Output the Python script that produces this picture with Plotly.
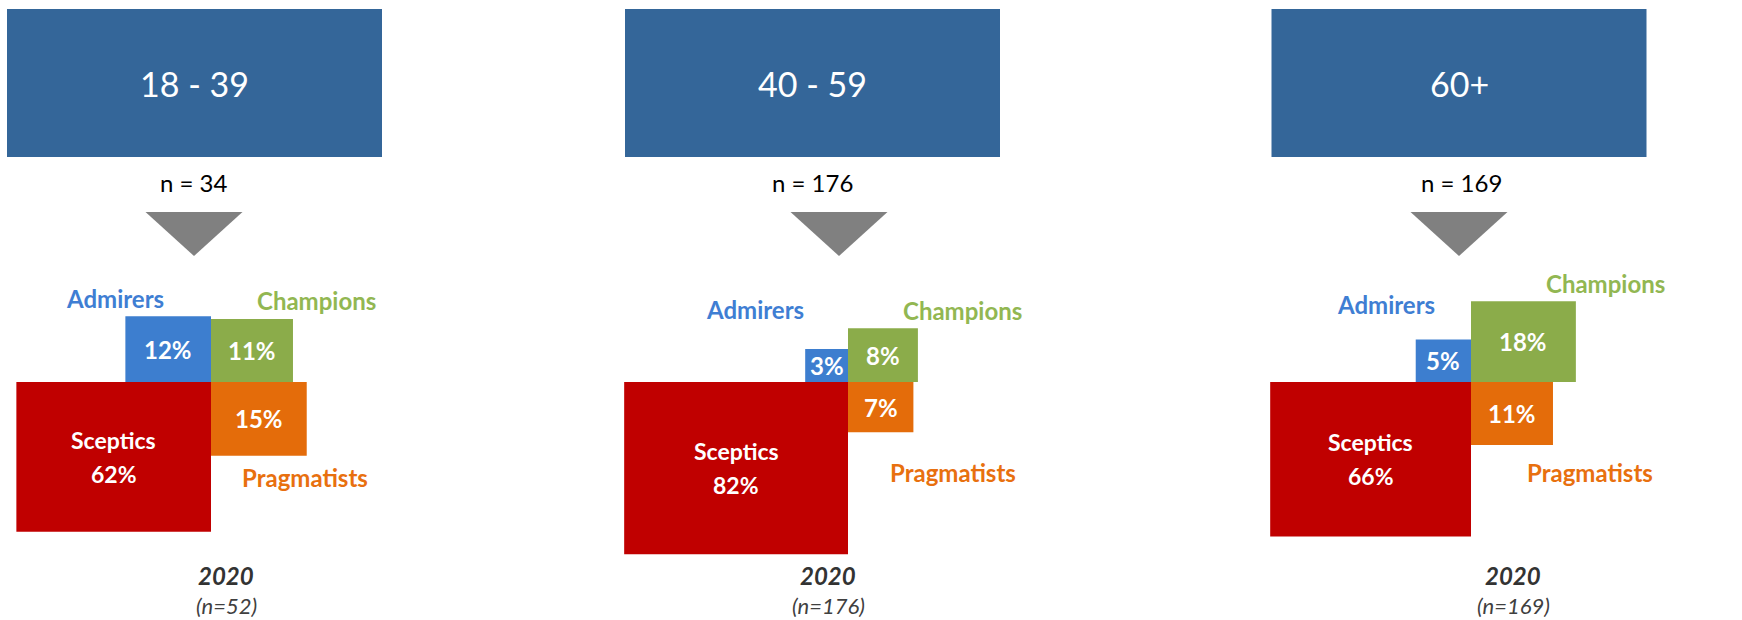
import math
import plotly.graph_objects as go

# ---------------- data ----------------
age_groups = ["18 - 39", "40 - 59", "60+"]
group_n = [34, 176, 169]
admirers = [12, 3, 5]
champions = [11, 8, 18]
sceptics = [62, 82, 66]
pragmatists = [15, 7, 11]
year_labels = ["2020", "2020", "2020"]
sample_n = [52, 176, 169]

# ---------------- layout / style constants ----------------
W, H = 1742, 620
FONT = "Lato"
HEADER_COLOR = "#346699"
C_ADM = "#3D7ECF"
C_CHA = "#8BAC4A"
C_SCE = "#C00000"
C_PRA = "#E46C0A"
T_ADM = "#3F7ED3"
T_CHA = "#92B752"
T_PRA = "#E8700F"

header_cx = [194.5, 812.5, 1459]
header_w, header_y0, header_y1 = 375, 9, 157
n_text_x = [194, 812, 1461]
n_text_y = 182
tri_cx = [194, 839, 1459]
tri_half, tri_top, tri_bot = 48.5, 212, 256
junction_x = [211, 848, 1471]
junction_y = 382
footer_x = [226, 828, 1513]
# label offsets from the junction point (dx, dy)
adm_off = [(-96, -73), (-93, -73), (-85, -78)]
cha_off = [(105, -71), (114, -72), (134, -85)]
pra_off = [(94, 90), (105, 90), (119, 90)]

AREA_PER_PCT = 470.0   # px^2 per percentage point
ASPECT = 1.3           # width / height of each box

fig = go.Figure()
shapes = []
ann = []


def box_dims(v):
    a = AREA_PER_PCT * v
    return math.sqrt(a * ASPECT), math.sqrt(a / ASPECT)


def rect(x0, y0, x1, y1, color):
    shapes.append(dict(type="rect", xref="x", yref="y", x0=x0, y0=y0, x1=x1, y1=y1,
                       fillcolor=color, line=dict(width=0), layer="above"))


def text(x, y, s, size, color, weight="normal", style="normal"):
    ann.append(dict(x=x, y=y, xref="x", yref="y", text=s, showarrow=False,
                    xanchor="center", yanchor="middle",
                    font=dict(family=FONT, size=size, color=color, weight=weight, style=style)))


for i in range(3):
    # header box
    rect(header_cx[i] - header_w / 2, header_y0, header_cx[i] + header_w / 2, header_y1, HEADER_COLOR)
    text(header_cx[i], (header_y0 + header_y1) / 2, age_groups[i], 34, "white")
    text(n_text_x[i], n_text_y, f"n = {group_n[i]}", 24, "black")
    # arrow triangle
    cx = tri_cx[i]
    shapes.append(dict(type="path", xref="x", yref="y",
                       path=f"M {cx - tri_half},{tri_top} L {cx + tri_half},{tri_top} L {cx},{tri_bot} Z",
                       fillcolor="#808080", line=dict(width=0)))

    jx, jy = junction_x[i], junction_y
    # Sceptics (bottom-left)
    w, h = box_dims(sceptics[i])
    rect(jx - w, jy, jx, jy + h, C_SCE)
    scx, scy = jx - w / 2, jy + h / 2
    text(scx, scy - 17, "Sceptics", 23, "white", weight="bold")
    text(scx, scy + 17, f"{sceptics[i]}%", 23, "white", weight="bold")
    # Admirers (top-left)
    w, h = box_dims(admirers[i])
    rect(jx - w, jy - h, jx, jy, C_ADM)
    text(jx - w / 2, jy - h / 2, f"{admirers[i]}%", 24, "white", weight="bold")
    adm_top = jy - h
    # Champions (top-right)
    w, h = box_dims(champions[i])
    rect(jx, jy - h, jx + w, jy, C_CHA)
    text(jx + w / 2, jy - h / 2, f"{champions[i]}%", 24, "white", weight="bold")
    cha_top = jy - h
    # Pragmatists (bottom-right)
    w, h = box_dims(pragmatists[i])
    rect(jx, jy, jx + w, jy + h, C_PRA)
    text(jx + w / 2, jy + h / 2, f"{pragmatists[i]}%", 24, "white", weight="bold")
    pra_bot = jy + h

    # category labels (kept clear of the boxes)
    text(jx + adm_off[i][0], min(jy + adm_off[i][1], adm_top - 18), "Admirers", 24, T_ADM, weight="bold")
    text(jx + cha_off[i][0], min(jy + cha_off[i][1], cha_top - 18), "Champions", 24, T_CHA, weight="bold")
    text(jx + pra_off[i][0], max(jy + pra_off[i][1], pra_bot + 22), "Pragmatists", 24, T_PRA, weight="bold")

    # footer
    text(footer_x[i], 575, year_labels[i], 24, "#333333", weight="bold", style="italic")
    text(footer_x[i], 605, f"(n={sample_n[i]})", 22, "#404040", style="italic")

# invisible trace to anchor axes
fig.add_trace(go.Scatter(x=[0, W], y=[0, H], mode="markers", marker=dict(opacity=0),
                         hoverinfo="skip", showlegend=False))

fig.update_layout(
    width=W, height=H,
    margin=dict(l=0, r=0, t=0, b=0),
    paper_bgcolor="white", plot_bgcolor="white",
    shapes=shapes, annotations=ann, showlegend=False,
    xaxis=dict(range=[0, W], visible=False, fixedrange=True),
    yaxis=dict(range=[H, 0], visible=False, fixedrange=True),
)

fig.write_html(
    "out.html",
    config={"displayModeBar": False},
    post_script="document.body.style.margin='0';document.body.style.overflow='hidden';",
)
